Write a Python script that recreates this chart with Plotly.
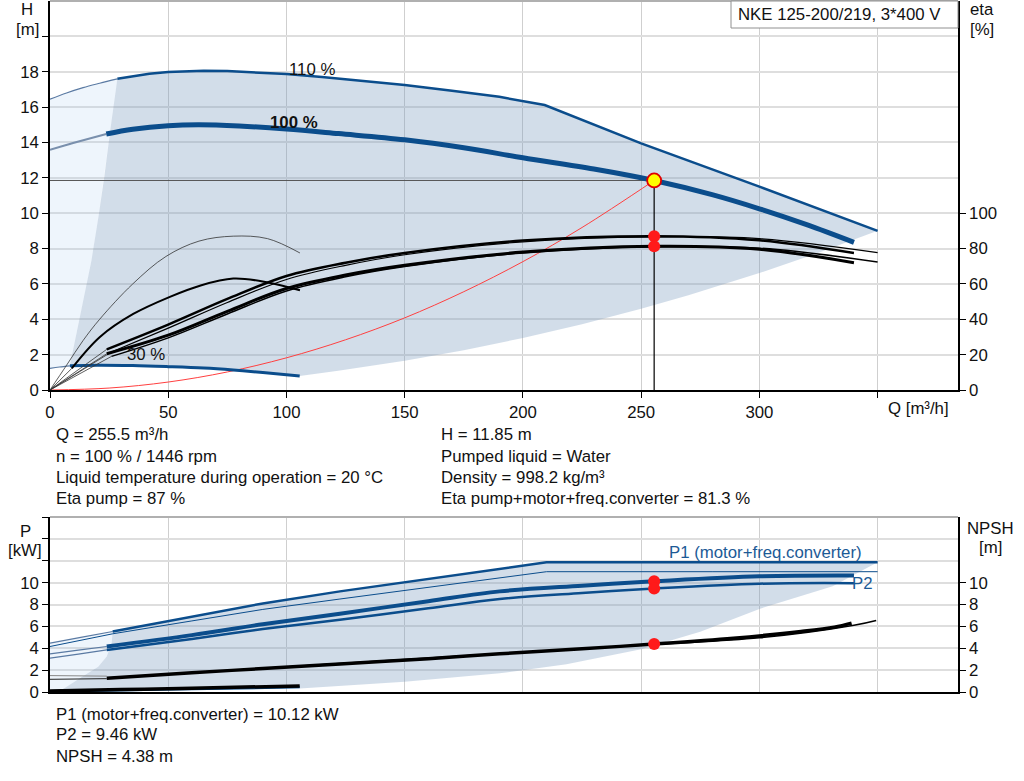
import plotly.graph_objects as go

# ---------------- top chart: head and efficiency ----------------
# head at 110 % speed (thin start + curve + power limit)
Q_H110_EXT = [0, 7, 14, 21, 28.5]
H_H110_EXT = [16.45, 16.8, 17.1, 17.35, 17.6]
Q_H110 = [28.5, 35, 42, 50, 57, 65, 75, 85, 100, 115, 130, 150, 170, 190, 209.2, 250, 300, 350]
H_H110 = [17.6, 17.75, 17.88, 17.98, 18.03, 18.05, 18.04, 17.98, 17.87, 17.7, 17.5, 17.25,
          16.93, 16.58, 16.12, 13.95, 11.5, 9.0]

# head at 100 % speed
Q_H100_EXT = [0, 8, 16, 23.8]
H_H100_EXT = [13.58, 13.9, 14.2, 14.48]
Q_H100 = [23.8, 35, 50, 63, 80, 100, 122, 150, 175, 200, 230, 255.5, 280, 300, 320, 340]
H_H100 = [14.48, 14.75, 14.95, 15.0, 14.93, 14.76, 14.5, 14.15, 13.7, 13.13, 12.5, 11.85,
          11.05, 10.25, 9.35, 8.35]

# head at 30 % speed
Q_H30_EXT = [0, 4, 8.4]
H_H30_EXT = [1.22, 1.3, 1.37]
Q_H30 = [8.4, 20, 35, 50, 65, 77.5, 90, 105.6]
H_H30 = [1.37, 1.4, 1.38, 1.32, 1.24, 1.13, 0.99, 0.79]

# envelope edges
Q_MIN = [28.5, 25.5, 23, 20.5, 17.5, 14.5, 11.5, 8.4]
H_MIN = [17.6, 14.7, 12.1, 9.8, 7.3, 5.3, 3.4, 1.37]
Q_LOW = [105.6, 122.6, 150, 175, 200, 225, 250, 270, 300, 325, 350]
H_LOW = [0.8, 1.1, 1.65, 2.25, 2.94, 3.72, 4.59, 5.36, 6.61, 7.76, 9.0]

# system curve through duty point
Q_SYS = [0, 25, 50, 75, 100, 125, 150, 175, 200, 225, 255.5]
H_SYS = [0, 0.11, 0.45, 1.02, 1.82, 2.84, 4.08, 5.56, 7.26, 9.19, 11.85]

# efficiency curves [%]
Q_ETA = [24, 50, 75, 100, 125, 150, 200, 255.5, 300, 340]
ETA_PUMP = [23, 37, 51.5, 64.5, 72, 77.5, 84.5, 87, 84.7, 77.5]
ETA_TOTAL = [20.5, 31, 44.5, 57.4, 65, 70.5, 78, 81.3, 79.6, 72]
Q_ETA110 = [26, 50, 75, 100, 125, 150, 200, 255.5, 300, 350]
ETA_PUMP110 = [21.5, 35, 49.5, 62.5, 70.5, 76.5, 83.8, 86.6, 85.6, 77.7]
ETA_TOTAL110 = [19, 29.5, 43, 56, 64, 69.8, 77.5, 81, 80.2, 72.4]
Q_ETA30 = [0, 7, 14, 21, 35, 49, 63, 77.5, 92, 105.7]
ETA_PUMP30 = [0, 14, 28, 40, 60, 75.5, 84.2, 87, 85.6, 77.5]
Q_ETAT30 = [9.2, 21.1, 35.2, 50.7, 63.4, 77.5, 91.6, 105.7]
ETA_TOTAL30 = [12.2, 30, 43, 52.7, 59, 63, 61, 56.4]

# ---------------- bottom chart: power and NPSH ----------------
Q_P1MAX_EXT = [0, 13, 26.5]
P_P1MAX_EXT = [4.47, 5.0, 5.53]
Q_P1MAX = [26.5, 60, 90, 122.6, 160, 190.2, 210, 280, 350]
P_P1MAX = [5.53, 6.9, 8.1, 9.2, 10.35, 11.25, 11.86, 11.86, 11.86]
Q_P2MAX = [0, 26.5, 60, 90, 122.6, 160, 190.2, 210, 280, 350]
P_P2MAX = [4.16, 5.32, 6.5, 7.55, 8.5, 9.55, 10.43, 11.0, 11.0, 11.0]

Q_P_EXT = [0, 12, 24]
P_P1_EXT = [3.49, 3.82, 4.16]
P_P2_EXT = [3.09, 3.47, 3.85]
Q_P = [24, 60, 90, 122.6, 160, 190.2, 225, 255.5, 300, 340]
P_P1 = [4.16, 5.2, 6.2, 7.16, 8.3, 9.2, 9.72, 10.12, 10.58, 10.65]
P_P2 = [3.85, 4.85, 5.75, 6.6, 7.65, 8.5, 9.05, 9.46, 9.9, 9.95]

Q_NPSH_EXT = [0, 24]
N_NPSH_EXT = [1.16, 1.22]
N_NPSH_EXT2 = [1.5, 1.45]
Q_NPSH = [24, 60, 90, 122.6, 160, 190.2, 225, 255.5, 289, 317.6, 331.7, 339]
N_NPSH = [1.26, 1.75, 2.15, 2.57, 3.05, 3.49, 3.95, 4.38, 4.92, 5.53, 5.93, 6.3]
Q_NPSH110 = [26, 122.6, 190.2, 255.5, 300, 340, 349.4]
N_NPSH110 = [1.3, 2.6, 3.5, 4.35, 4.95, 6.1, 6.54]

Q_30B = [0, 30, 60, 105.6]
P_P30 = [0.06, 0.16, 0.27, 0.45]
N_NPSH30 = [0.09, 0.22, 0.35, 0.55]

Q_PMIN = [26.5, 26.1, 24, 20.4, 14, 7, 4.2]
P_PMIN = [5.53, 4.47, 3.24, 2.32, 1.4, 0.49, 0.1]
Q_PLOW = [105.6, 150, 190.2, 218.4, 250, 275, 300, 331, 350]
P_PLOW = [0.32, 0.93, 1.71, 2.54, 3.9, 5.5, 7.6, 9.66, 11.86]

# duty point
Q_DUTY = 255.5
H_DUTY = 11.85
ETA_DUTY = [87, 81.3]
P_DUTY = [10.12, 9.46]
NPSH_DUTY = 4.38

X_TICKS = [0, 50, 100, 150, 200, 250, 300, 350]
X_TICKTEXT = ["0", "50", "100", "150", "200", "250", "300", ""]

BLUE = "#0b4d8c"
DARK_FILL = "rgba(118,152,188,0.33)"
LIGHT_FILL = "rgba(170,205,240,0.2)"
FONT = "Arial, Liberation Sans, sans-serif"
FS = 16.8


def px_x(px):
    return (px - 50) / 908


def px_y(py):
    return (692 - py) / 691


def curve(fig, q, v, xa, ya, color, width, shape="spline"):
    fig.add_trace(go.Scatter(x=q, y=v, xaxis=xa, yaxis=ya, mode="lines",
                             line=dict(color=color, width=width, shape=shape),
                             hoverinfo="skip", showlegend=False))


def area(fig, q, v, xa, ya, color):
    fig.add_trace(go.Scatter(x=q, y=v, xaxis=xa, yaxis=ya, mode="lines", fill="toself",
                             fillcolor=color, line=dict(width=0),
                             hoverinfo="skip", showlegend=False))


fig = go.Figure()

# --- top: shaded regions ---
area(fig, Q_H110_EXT + Q_MIN + Q_H30_EXT[::-1], H_H110_EXT + H_MIN + H_H30_EXT[::-1],
     "x", "y", LIGHT_FILL)
area(fig, Q_H110 + Q_LOW[::-1] + Q_H30[::-1] + Q_MIN[::-1],
     H_H110 + H_LOW[::-1] + H_H30[::-1] + H_MIN[::-1], "x", "y", DARK_FILL)

# --- top: system curve and duty lines ---
curve(fig, Q_SYS, H_SYS, "x", "y", "#ff4040", 1)
curve(fig, [0, Q_DUTY], [H_DUTY, H_DUTY], "x", "y", "#555555", 1, "linear")

# --- top: efficiency curves (right axis) ---
curve(fig, Q_ETA30, ETA_PUMP30, "x", "y2", "#333333", 0.8)
curve(fig, [0, Q_ETAT30[0]], [0, ETA_TOTAL30[0]], "x", "y2", "#333333", 0.8, "linear")
curve(fig, Q_ETAT30, ETA_TOTAL30, "x", "y2", "black", 2)
for q, e in ((Q_ETA, ETA_PUMP), (Q_ETA, ETA_TOTAL), (Q_ETA110, ETA_PUMP110), (Q_ETA110, ETA_TOTAL110)):
    curve(fig, [0, q[0]], [0, e[0]], "x", "y2", "#333333", 0.8, "linear")
curve(fig, Q_ETA110, ETA_PUMP110, "x", "y2", "black", 1.2)
curve(fig, Q_ETA110, ETA_TOTAL110, "x", "y2", "black", 1.5)
curve(fig, Q_ETA, ETA_PUMP, "x", "y2", "black", 2.5)
curve(fig, Q_ETA, ETA_TOTAL, "x", "y2", "black", 3)

# --- top: head curves ---
curve(fig, Q_H110_EXT, H_H110_EXT, "x", "y", "#5a7aa3", 1.2)
curve(fig, Q_H110, H_H110, "x", "y", BLUE, 2.5, "linear")
curve(fig, Q_H100_EXT, H_H100_EXT, "x", "y", "#7a90ad", 2)
curve(fig, Q_H100, H_H100, "x", "y", BLUE, 5)
curve(fig, Q_H30_EXT, H_H30_EXT, "x", "y", "#5a7aa3", 1.2)
curve(fig, Q_H30, H_H30, "x", "y", BLUE, 3)

curve(fig, [Q_DUTY, Q_DUTY], [0, H_DUTY], "x", "y", "black", 1.2, "linear")
fig.add_trace(go.Scatter(x=[Q_DUTY] * 2, y=ETA_DUTY, xaxis="x", yaxis="y2", mode="markers",
                         marker=dict(color="#ff1a1a", size=12), hoverinfo="skip", showlegend=False))
fig.add_trace(go.Scatter(x=[Q_DUTY], y=[H_DUTY], xaxis="x", yaxis="y", mode="markers",
                         marker=dict(color="#ffff00", size=14, line=dict(color="#e00000", width=1.8)),
                         hoverinfo="skip", showlegend=False))

# --- bottom: shaded regions ---
area(fig, Q_P1MAX_EXT + Q_PMIN + [0], P_P1MAX_EXT + P_PMIN + [0.05], "x2", "y3", LIGHT_FILL)
area(fig, Q_P1MAX + Q_PLOW[::-1] + Q_PMIN[::-1], P_P1MAX + P_PLOW[::-1] + P_PMIN[::-1],
     "x2", "y3", DARK_FILL)

# --- bottom: power curves ---
curve(fig, Q_P1MAX_EXT, P_P1MAX_EXT, "x2", "y3", "#5a7aa3", 1.2)
curve(fig, Q_P1MAX, P_P1MAX, "x2", "y3", BLUE, 2.5, "linear")
curve(fig, Q_P2MAX, P_P2MAX, "x2", "y3", BLUE, 1, "linear")
curve(fig, Q_P_EXT, P_P1_EXT, "x2", "y3", "#5a7aa3", 1.2)
curve(fig, Q_P_EXT, P_P2_EXT, "x2", "y3", "#5a7aa3", 1.2)
curve(fig, Q_P, P_P1, "x2", "y3", BLUE, 4)
curve(fig, Q_P, P_P2, "x2", "y3", BLUE, 2.5)
curve(fig, Q_30B, P_P30, "x2", "y3", BLUE, 2.5)

# --- bottom: NPSH curves (right axis) ---
curve(fig, Q_NPSH_EXT, N_NPSH_EXT2, "x2", "y4", "#888888", 1, "linear")
curve(fig, Q_NPSH_EXT, N_NPSH_EXT, "x2", "y4", "#222222", 1, "linear")
curve(fig, Q_NPSH110, N_NPSH110, "x2", "y4", "black", 1.5)
curve(fig, Q_NPSH, N_NPSH, "x2", "y4", "black", 3.5)
curve(fig, Q_30B, N_NPSH30, "x2", "y4", "black", 3.5)

fig.add_trace(go.Scatter(x=[Q_DUTY] * 2, y=P_DUTY, xaxis="x2", yaxis="y3", mode="markers",
                         marker=dict(color="#ff1a1a", size=12), hoverinfo="skip", showlegend=False))
fig.add_trace(go.Scatter(x=[Q_DUTY], y=[NPSH_DUTY], xaxis="x2", yaxis="y4", mode="markers",
                         marker=dict(color="#ff1a1a", size=12), hoverinfo="skip", showlegend=False))

# --- axes ---
tick_font = dict(family=FONT, size=FS, color="#111111")
axis_common = dict(showline=True, linecolor="black", linewidth=1.5, ticks="outside",
                   ticklen=6, tickcolor="black", tickfont=tick_font, zeroline=False,
                   automargin=False)

fig.update_layout(
    width=1024, height=781,
    margin=dict(l=50, r=66, t=1, b=89),
    paper_bgcolor="white", plot_bgcolor="white",
    showlegend=False,
    font=dict(family=FONT, size=FS, color="#111111"),
    xaxis=dict(domain=[0, 1], anchor="y", range=[0, 384], tickvals=X_TICKS,
               ticktext=X_TICKTEXT,
               showgrid=True, gridcolor="#cfcfcf", gridwidth=1, **axis_common),
    yaxis=dict(domain=[px_y(390), 1], anchor="x", range=[0, 22],
               tickvals=list(range(0, 21, 2)),
               ticktext=[str(v) for v in range(0, 19, 2)] + [""],
               showgrid=True, gridcolor="#dedede", gridwidth=2, **axis_common),
    yaxis2=dict(overlaying="y", anchor="x", side="right", range=[0, 220],
                tickvals=list(range(0, 101, 20)), showgrid=False, **axis_common),
    xaxis2=dict(domain=[0, 1], anchor="y3", range=[0, 384], tickvals=X_TICKS,
                showticklabels=False, showgrid=True, gridcolor="#cfcfcf", gridwidth=1,
                showline=True, linecolor="black", linewidth=1.5, zeroline=False),
    yaxis3=dict(domain=[0, px_y(517)], anchor="x2", range=[0, 16],
                tickvals=list(range(0, 17, 2)),
                ticktext=[str(v) for v in range(0, 11, 2)] + ["", "", ""],
                showgrid=True, gridcolor="#dedede", gridwidth=2, **axis_common),
    yaxis4=dict(overlaying="y3", anchor="x2", side="right", range=[0, 16],
                tickvals=list(range(0, 11, 2)), showgrid=False, **axis_common),
)

# top borders and type box
fig.add_shape(type="line", xref="paper", yref="paper", x0=0, x1=1, y0=1, y1=1,
              line=dict(color="#b0b0b0", width=2))
fig.add_shape(type="line", xref="paper", yref="paper", x0=0, x1=1, y0=px_y(517), y1=px_y(517),
              line=dict(color="#b0b0b0", width=2))
fig.add_shape(type="rect", xref="paper", yref="paper", x0=px_x(731), x1=1,
              y0=px_y(28), y1=1, line=dict(color="#909090", width=1), fillcolor="white")


def text(s, x, y, anchor="left", size=FS, color="#111111"):
    fig.add_annotation(text=s, x=px_x(x), y=px_y(y), xref="paper", yref="paper",
                       xanchor=anchor, yanchor="middle", showarrow=False,
                       font=dict(family=FONT, size=size, color=color))


text("NKE 125-200/219, 3*400 V", 736, 15)

# axis captions
text("H", 27, 9, "center")
text("[m]", 27, 29, "center")
text("eta", 982, 9, "center")
text("[%]", 982, 29, "center")
text("Q [m³/h]", 951, 408, "right")
text("P", 25, 531, "center")
text("[kW]", 25, 550, "center")
text("NPSH", 990, 528, "center")
text("[m]", 990, 547, "center")

# curve labels
text("110 %", 287, 70)
text("<b>100 %</b>", 268, 122)
text("30 %", 125, 354)
text("P1 (motor+freq.converter)", 667, 552, color="#1c5a96")
text("P2", 850, 583, color="#1c5a96")

# duty point information
info_left = ["Q = 255.5 m³/h", "n = 100 % / 1446 rpm",
             "Liquid temperature during operation = 20 °C", "Eta pump = 87 %"]
info_right = ["H = 11.85 m", "Pumped liquid = Water", "Density = 998.2 kg/m³",
              "Eta pump+motor+freq.converter = 81.3 %"]
info_bottom = ["P1 (motor+freq.converter) = 10.12 kW", "P2 = 9.46 kW", "NPSH = 4.38 m"]
for i, s in enumerate(info_left):
    text(s, 54, 435 + i * 21.3)
for i, s in enumerate(info_right):
    text(s, 439, 435 + i * 21.3)
for i, s in enumerate(info_bottom):
    text(s, 54, 714 + i * 21)

# the page body has a default margin; remove it so the figure sits at the window corner
fig.write_html("out.html", config={"displayModeBar": False},
               post_script="document.body.style.margin='0';")
